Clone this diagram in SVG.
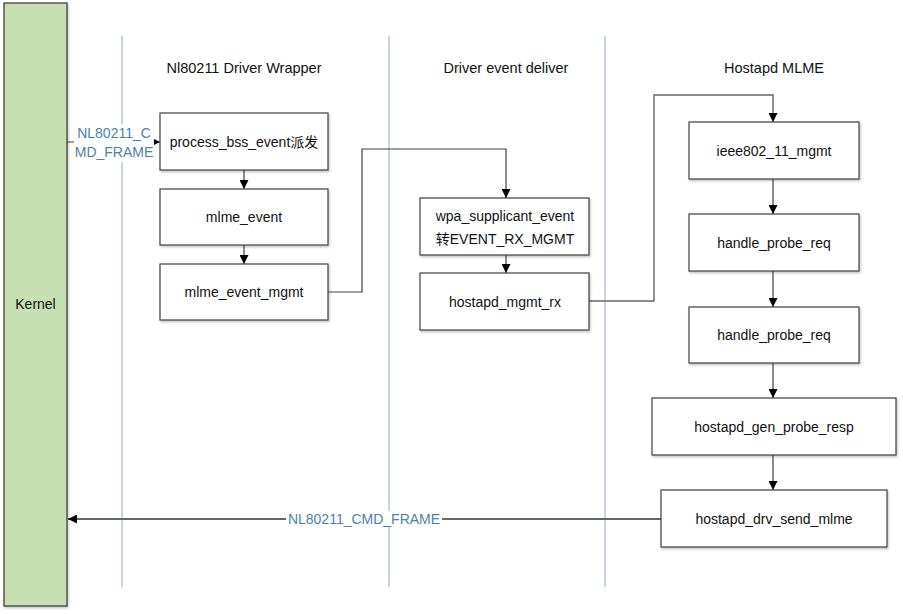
<svg xmlns="http://www.w3.org/2000/svg" width="903" height="614" viewBox="0 0 903 614">
<style>
.box{fill:#fff;stroke:#404040;stroke-width:1.2}
.t{font-family:"Liberation Sans","Noto Sans CJK SC",sans-serif;font-size:14px;fill:#111;text-anchor:middle;dominant-baseline:central}
.h{font-family:"Liberation Sans",sans-serif;font-size:14.5px;fill:#111;text-anchor:middle}
.lbl{font-family:"Liberation Sans",sans-serif;font-size:14px;fill:#4e7fab;text-anchor:middle;dominant-baseline:central}
.lane{stroke:#9dbbd6;stroke-width:1.2}
.c{fill:none;stroke:#404040;stroke-width:1.2}
.cg{fill:none;stroke:#666;stroke-width:1.4}
</style>
<defs>
<marker id="a" viewBox="0 0 10 10" refX="10" refY="5" markerWidth="9" markerHeight="9" markerUnits="userSpaceOnUse" orient="auto">
<path d="M0,0 L10,5 L0,10 z" fill="#000"/>
</marker>
<filter id="sh" x="-5%" y="-5%" width="115%" height="120%">
<feDropShadow dx="1" dy="1.5" stdDeviation="0.8" flood-color="#000" flood-opacity="0.25"/>
</filter>
</defs>
<rect width="903" height="614" fill="#fff"/>
<g id="lanes">
<line class="lane" x1="122" y1="36" x2="122" y2="587"/>
<line class="lane" x1="389" y1="36" x2="389" y2="587"/>
<line class="lane" x1="605" y1="36" x2="605" y2="587"/>
<text class="h" x="244" y="73">Nl80211 Driver Wrapper</text>
<text class="h" x="506" y="73">Driver event deliver</text>
<text class="h" x="774" y="73">Hostapd MLME</text>
</g>
<g id="kernel">
<rect x="4" y="3" width="63" height="603" fill="#c6e0b4" stroke="#333" stroke-width="1.2" filter="url(#sh)"/>
<text class="t" x="35.5" y="304">Kernel</text>
</g>
<g id="connectors">
<line class="c" x1="67" y1="142" x2="160" y2="142" marker-end="url(#a)"/>
<rect x="74" y="124" width="80" height="38" fill="#fff"/>
<text class="lbl" x="114" y="133">NL80211_C</text>
<text class="lbl" x="114" y="152">MD_FRAME</text>
<line class="c" x1="244" y1="170" x2="244" y2="189" marker-end="url(#a)"/>
<line class="c" x1="244" y1="245" x2="244" y2="264" marker-end="url(#a)"/>
<polyline class="c" points="328,292 362,292 362,149 506,149 506,198" marker-end="url(#a)"/>
<line class="c" x1="506" y1="255" x2="506" y2="273" marker-end="url(#a)"/>
<polyline class="cg" points="589,301 654,301 654,95 773,95 773,122" marker-end="url(#a)"/>
<line class="c" x1="773" y1="179" x2="773" y2="214" marker-end="url(#a)"/>
<line class="c" x1="773" y1="271" x2="773" y2="307" marker-end="url(#a)"/>
<line class="c" x1="773" y1="363" x2="773" y2="398" marker-end="url(#a)"/>
<line class="c" x1="773" y1="455" x2="773" y2="490" marker-end="url(#a)"/>
<line stroke="#666" stroke-width="2" x1="661" y1="519" x2="68" y2="519" marker-end="url(#a)"/>
<rect x="286" y="511" width="156" height="16" fill="#fff"/>
<text class="lbl" x="364" y="519">NL80211_CMD_FRAME</text>
</g>
<g id="n1"><rect class="box" x="160" y="113" width="168" height="57" filter="url(#sh)"/><text class="t" x="244" y="142">process_bss_event派发</text></g>
<g id="n2"><rect class="box" x="160" y="189" width="168" height="56" filter="url(#sh)"/><text class="t" x="244" y="217">mlme_event</text></g>
<g id="n3"><rect class="box" x="160" y="264" width="168" height="56" filter="url(#sh)"/><text class="t" x="244" y="292">mlme_event_mgmt</text></g>
<g id="n4"><rect class="box" x="420" y="198" width="169" height="57" filter="url(#sh)"/><text class="t" x="505" y="216">wpa_supplicant_event</text><text class="t" x="505" y="239">转EVENT_RX_MGMT</text></g>
<g id="n5"><rect class="box" x="420" y="273" width="169" height="57" filter="url(#sh)"/><text class="t" x="505" y="302">hostapd_mgmt_rx</text></g>
<g id="n6"><rect class="box" x="689" y="122" width="170" height="57" filter="url(#sh)"/><text class="t" x="774" y="151">ieee802_11_mgmt</text></g>
<g id="n7"><rect class="box" x="689" y="214" width="170" height="57" filter="url(#sh)"/><text class="t" x="774" y="243">handle_probe_req</text></g>
<g id="n8"><rect class="box" x="689" y="307" width="170" height="56" filter="url(#sh)"/><text class="t" x="774" y="335">handle_probe_req</text></g>
<g id="n9"><rect class="box" x="652" y="398" width="244" height="57" filter="url(#sh)"/><text class="t" x="774" y="427">hostapd_gen_probe_resp</text></g>
<g id="n10"><rect class="box" x="661" y="490" width="226" height="57" filter="url(#sh)"/><text class="t" x="774" y="519">hostapd_drv_send_mlme</text></g>
</svg>
